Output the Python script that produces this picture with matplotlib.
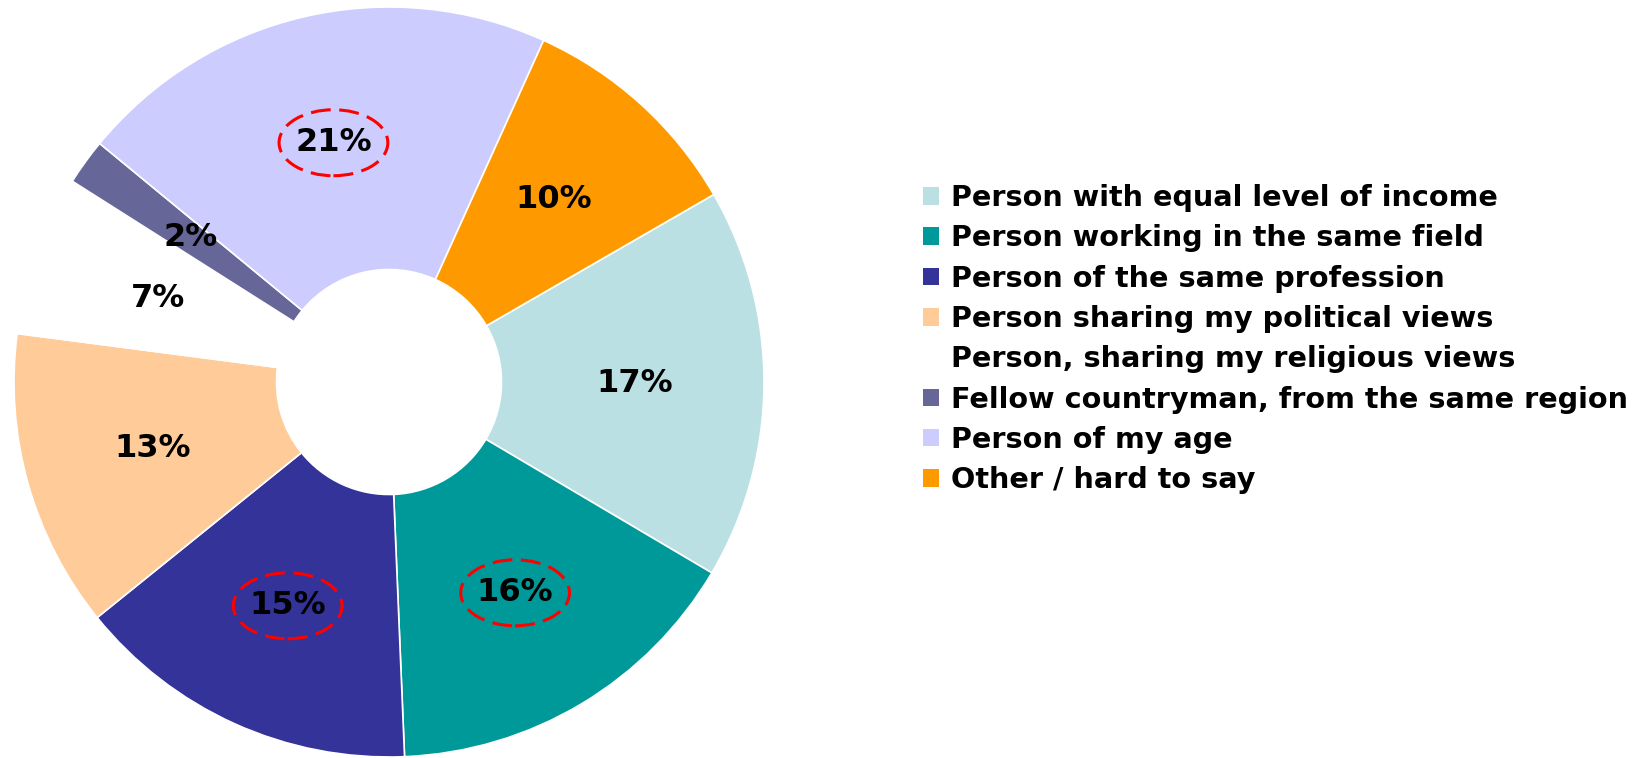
import matplotlib
matplotlib.use("Agg")
import matplotlib.pyplot as plt
from matplotlib.patches import Patch, Ellipse
from matplotlib.font_manager import FontProperties

categories = [
    "Person with equal level of income",
    "Person working in the same field",
    "Person of the same profession",
    "Person sharing my political views",
    "Person, sharing my religious views",
    "Fellow countryman, from the same region",
    "Person of my age",
    "Other / hard to say",
]
values = [17, 16, 15, 13, 7, 2, 21, 10]
colors = ["#BAE0E3", "#009999", "#333399", "#FFCC99", "#FFFFFF",
          "#666699", "#CCCCFF", "#FF9900"]
highlighted = ["Person working in the same field",
               "Person of the same profession",
               "Person of my age"]

W, H = 1637, 758
fig = plt.figure(figsize=(W / 100, H / 100), dpi=100)
ax = fig.add_axes([14 / W, 1 / H, 750 / W, 750 / H])

total = sum(values)
wedges, texts, autotexts = ax.pie(
    values,
    colors=colors,
    startangle=30,
    counterclock=False,
    radius=1,
    wedgeprops=dict(width=0.70, edgecolor="white", linewidth=1.2),
    autopct=lambda p: f"{round(p * total / 100)}%",
    pctdistance=0.655,
    textprops=dict(fontsize=23, fontweight="bold", color="black"),
)
ax.set_xlim(-1, 1)
ax.set_ylim(-1, 1)
ax.set_axis_off()

for cat, t in zip(categories, autotexts):
    if cat in highlighted:
        x, y = t.get_position()
        ax.add_patch(Ellipse((x, y), 0.29, 0.176, fill=False, edgecolor="red",
                             linewidth=2.2, linestyle=(0, (6.5, 2.8)), zorder=5))

handles = [Patch(facecolor=c, edgecolor="none") for c in colors]
fig.legend(handles, categories, loc="upper left",
           bbox_to_anchor=(923 / W, 1 - 184 / H),
           frameon=False, borderpad=0, borderaxespad=0,
           handlelength=0.56, handleheight=0.56, handletextpad=0.42,
           labelspacing=0.43,
           prop=FontProperties(weight="bold", size=20.6))

fig.savefig("out.png", dpi=100, facecolor="white")
